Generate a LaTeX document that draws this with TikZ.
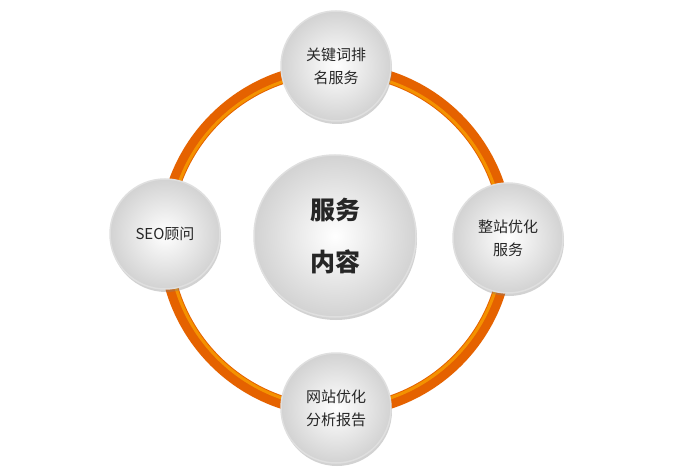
\documentclass[tikz,border=0pt]{standalone}
\usepackage{fontspec}
\setmainfont{Noto Sans CJK SC}
\usetikzlibrary{shadows}
\begin{document}
\begin{tikzpicture}[x=1pt,y=-1pt,
  ball/.style={circle,draw=gray!25,line width=1.5pt,minimum size=#1,
    shading=radial,inner color=white,outer color=gray!35,
    drop shadow={shadow xshift=1pt,shadow yshift=-3pt,opacity=0.35},
    align=center,font=\fontsize{15}{23}\selectfont,text=black!85}]
\useasboundingbox (0,0) rectangle (700,470);
\fill[white] (0,0) rectangle (700,470);
\draw[line width=13pt,color=orange!85!red!90!black] (336,240) circle (171);
\draw[line width=3pt,color=orange!60!yellow,opacity=0.6] (336,240) circle (167);
\node[ball=110pt] (top) at (336,66) {关键词排\\名服务};
\node[ball=110pt] (left) at (165,234) {SEO顾问};
\node[ball=110pt] (right) at (508,238) {整站优化\\服务};
\node[ball=110pt] (bot) at (336,408) {网站优化\\分析报告};
\node[ball=162pt,font=\fontsize{25}{52}\selectfont\bfseries] (c) at (335,236) {服务\\内容};
\end{tikzpicture}
\end{document}
